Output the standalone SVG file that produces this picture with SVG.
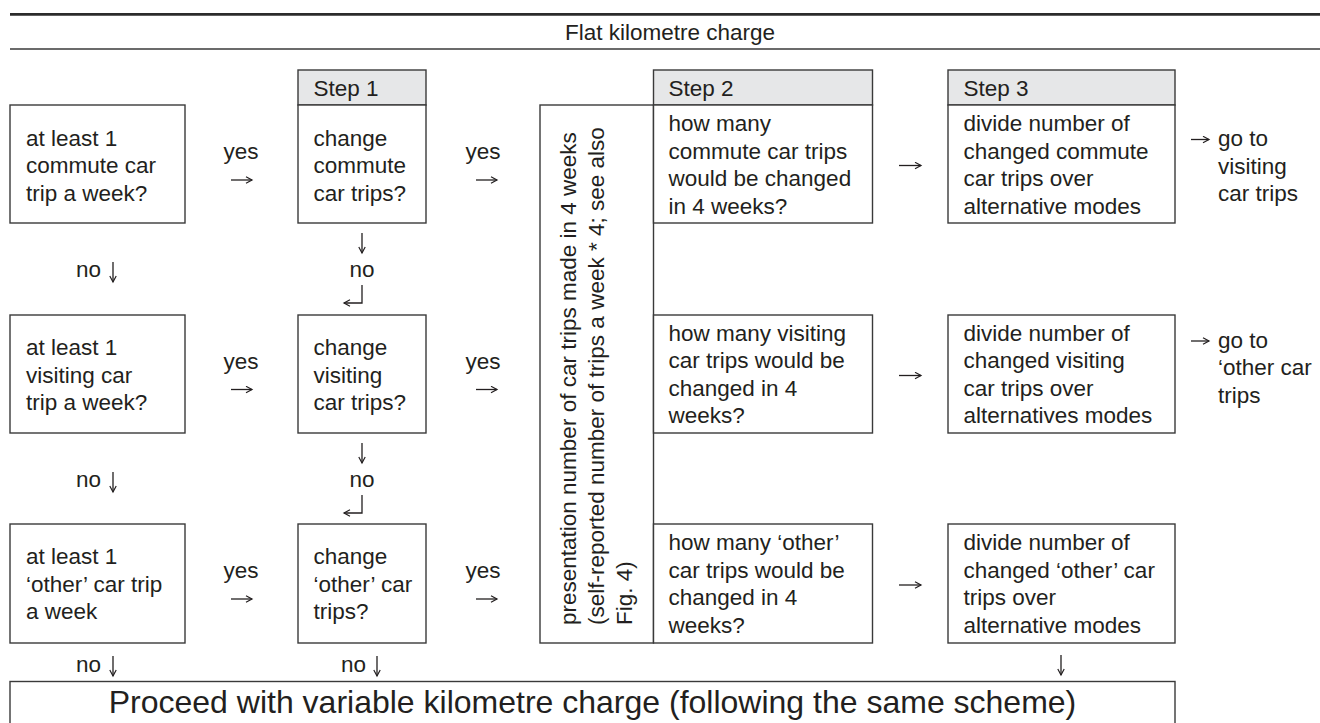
<svg xmlns="http://www.w3.org/2000/svg" width="1320" height="723" viewBox="0 0 1320 723">
<style>
text{font-family:"Liberation Sans",Arial,"DejaVu Sans",sans-serif;font-size:22.5px;fill:#231f20}
.box{fill:#fff;stroke:#3a3a3a;stroke-width:1.4}
.hdr{fill:#e6e7e8;stroke:#3a3a3a;stroke-width:1.4}
.c{text-anchor:middle}
.arr{fill:none;stroke:#231f20;stroke-width:1.3;marker-end:url(#ah)}
</style>
<defs>
<marker id="ah" markerUnits="userSpaceOnUse" markerWidth="10" markerHeight="10" refX="7" refY="4" orient="auto">
<path d="M1,0.8 L7,4 L1,7.2" fill="none" stroke="#231f20" stroke-width="1.2"/>
</marker>
</defs>
<rect width="1320" height="723" fill="#fff"/>
<g id="title">
<line x1="10" y1="14.3" x2="1320" y2="14.3" stroke="#2b2b2b" stroke-width="2.8"/>
<line x1="10" y1="49" x2="1320" y2="49" stroke="#3a3a3a" stroke-width="1.3"/>
<text class="c" x="670" y="39.5">Flat kilometre charge</text>
</g>
<g id="q-commute">
<rect class="box" x="10" y="105" width="175" height="118"/>
<text x="26" y="145.5">at least 1</text>
<text x="26" y="173">commute car</text>
<text x="26" y="200.5">trip a week?</text>
</g>
<g id="q-visiting">
<rect class="box" x="10" y="315" width="175" height="118"/>
<text x="26" y="355">at least 1</text>
<text x="26" y="382.5">visiting car</text>
<text x="26" y="410">trip a week?</text>
</g>
<g id="q-other">
<rect class="box" x="10" y="524" width="175" height="119"/>
<text x="26" y="564">at least 1</text>
<text x="26" y="591.5">‘other’ car trip</text>
<text x="26" y="619">a week</text>
</g>
<g id="step1-commute">
<rect class="hdr" x="298" y="70" width="128" height="35"/>
<text x="313.5" y="96">Step 1</text>
<rect class="box" x="298" y="105" width="128" height="118"/>
<text x="313.5" y="145.5">change</text>
<text x="313.5" y="173">commute</text>
<text x="313.5" y="200.5">car trips?</text>
</g>
<g id="step1-visiting">
<rect class="box" x="298" y="315" width="128" height="118"/>
<text x="313.5" y="355">change</text>
<text x="313.5" y="382.5">visiting</text>
<text x="313.5" y="410">car trips?</text>
</g>
<g id="step1-other">
<rect class="box" x="298" y="524" width="128" height="119"/>
<text x="313.5" y="564">change</text>
<text x="313.5" y="591.5">‘other’ car</text>
<text x="313.5" y="619">trips?</text>
</g>
<g id="presentation">
<rect class="box" x="540" y="105" width="113.5" height="538"/>
<text transform="translate(576,625) rotate(-90)">presentation number of car trips made in 4 weeks</text>
<text transform="translate(604,625) rotate(-90)">(self-reported number of trips a week * 4; see also</text>
<text transform="translate(632,625) rotate(-90)">Fig. 4)</text>
</g>
<g id="step2-commute">
<rect class="hdr" x="653.5" y="70" width="219" height="35"/>
<text x="668.5" y="96">Step 2</text>
<rect class="box" x="653.5" y="105" width="219" height="118"/>
<text x="668.5" y="131">how many</text>
<text x="668.5" y="158.5">commute car trips</text>
<text x="668.5" y="186">would be changed</text>
<text x="668.5" y="213.5">in 4 weeks?</text>
</g>
<g id="step2-visiting">
<rect class="box" x="653.5" y="315" width="219" height="118"/>
<text x="668.5" y="340.5">how many visiting</text>
<text x="668.5" y="368">car trips would be</text>
<text x="668.5" y="395.5">changed in 4</text>
<text x="668.5" y="423">weeks?</text>
</g>
<g id="step2-other">
<rect class="box" x="653.5" y="524" width="219" height="119"/>
<text x="668.5" y="550">how many ‘other’</text>
<text x="668.5" y="577.5">car trips would be</text>
<text x="668.5" y="605">changed in 4</text>
<text x="668.5" y="632.5">weeks?</text>
</g>
<g id="step3-commute">
<rect class="hdr" x="948" y="70" width="227" height="35"/>
<text x="963.5" y="96">Step 3</text>
<rect class="box" x="948" y="105" width="227" height="118"/>
<text x="963.5" y="131">divide number of</text>
<text x="963.5" y="158.5">changed commute</text>
<text x="963.5" y="186">car trips over</text>
<text x="963.5" y="213.5">alternative modes</text>
</g>
<g id="step3-visiting">
<rect class="box" x="948" y="315" width="227" height="118"/>
<text x="963.5" y="340.5">divide number of</text>
<text x="963.5" y="368">changed visiting</text>
<text x="963.5" y="395.5">car trips over</text>
<text x="963.5" y="423">alternatives modes</text>
</g>
<g id="step3-other">
<rect class="box" x="948" y="524" width="227" height="119"/>
<text x="963.5" y="550">divide number of</text>
<text x="963.5" y="577.5">changed ‘other’ car</text>
<text x="963.5" y="605">trips over</text>
<text x="963.5" y="632.5">alternative modes</text>
</g>
<g id="goto-visiting">
<text x="1218" y="146">go to</text>
<text x="1218" y="173.5">visiting</text>
<text x="1218" y="201">car trips</text>
</g>
<g id="goto-other">
<text x="1218" y="347.5">go to</text>
<text x="1218" y="375">‘other car</text>
<text x="1218" y="402.5">trips</text>
</g>
<g id="proceed">
<rect class="box" x="10" y="681.5" width="1165" height="60"/>
<text class="c" x="592.5" y="713" style="font-size:32px">Proceed with variable kilometre charge (following the same scheme)</text>
</g>
<g id="labels">
<text class="c" x="241" y="159">yes</text>
<text class="c" x="483" y="159">yes</text>
<text class="c" x="241" y="368.5">yes</text>
<text class="c" x="483" y="368.5">yes</text>
<text class="c" x="241" y="578">yes</text>
<text class="c" x="483" y="578">yes</text>
<text x="76" y="277">no</text>
<text x="76" y="487">no</text>
<text x="76" y="672">no</text>
<text class="c" x="362" y="277">no</text>
<text class="c" x="362" y="487">no</text>
<text x="341" y="672">no</text>
</g>
<g id="connectors">
<path class="arr" d="M231,180 H252"/>
<path class="arr" d="M476,180 H497"/>
<path class="arr" d="M231,389.5 H252"/>
<path class="arr" d="M476,389.5 H497"/>
<path class="arr" d="M231,599 H252"/>
<path class="arr" d="M476,599 H497"/>
<path class="arr" d="M899,165.5 H921"/>
<path class="arr" d="M899,375.5 H921"/>
<path class="arr" d="M899,585 H921"/>
<path class="arr" d="M1191,139.5 H1209"/>
<path class="arr" d="M1191,341 H1209"/>
<path class="arr" d="M113,262 V282"/>
<path class="arr" d="M113,472 V492"/>
<path class="arr" d="M113,656 V676"/>
<path class="arr" d="M362,233 V253"/>
<path class="arr" d="M362,443 V463"/>
<path class="arr" d="M362,285 V303 H344"/>
<path class="arr" d="M362,495 V513 H344"/>
<path class="arr" d="M377,656 V676"/>
<path class="arr" d="M1061,655 V675"/>
</g>
</svg>
